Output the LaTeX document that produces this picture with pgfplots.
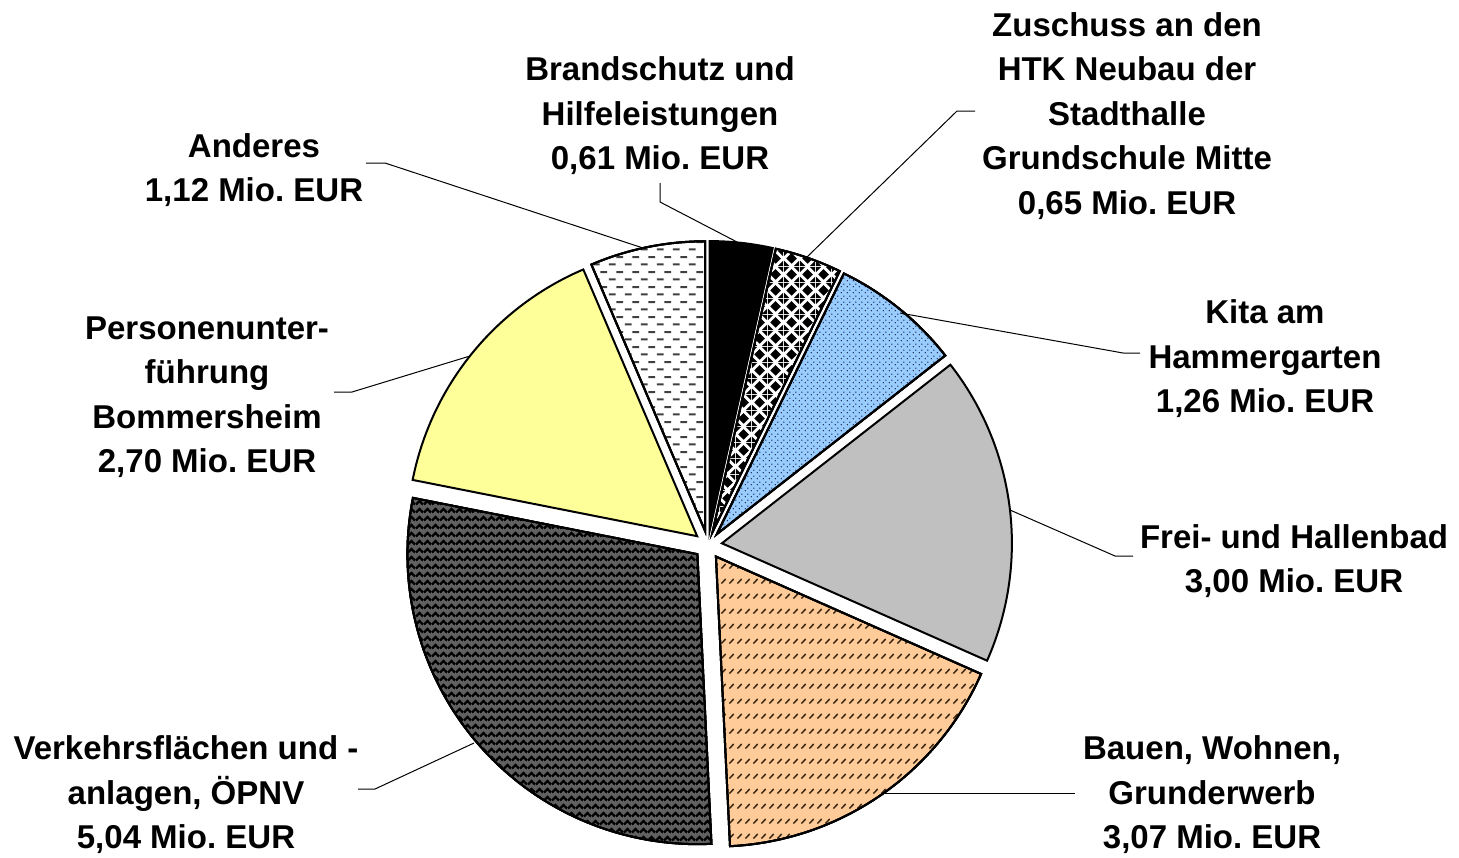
\documentclass[border=0pt]{standalone}
\usepackage{pgfplots}
\pgfplotsset{compat=1.18}
\usepackage{fontspec}
\setmainfont{Liberation Sans}
\usetikzlibrary{patterns}
\frenchspacing

\definecolor{cyel}{HTML}{FFFF99}
\definecolor{cblu}{HTML}{99CCFF}
\definecolor{cgry}{HTML}{C0C0C0}
\definecolor{cpch}{HTML}{FFCC99}

\pgfdeclarepatternformonly{hdash}{\pgfqpoint{0pt}{0pt}}{\pgfqpoint{8pt}{7.6pt}}{\pgfqpoint{8pt}{7.6pt}}{%
  \pgfsetlinewidth{1.1pt}%
  \pgfpathmoveto{\pgfqpoint{0.4pt}{1.9pt}}\pgfpathlineto{\pgfqpoint{4.0pt}{1.9pt}}%
  \pgfpathmoveto{\pgfqpoint{4.4pt}{5.7pt}}\pgfpathlineto{\pgfqpoint{8.0pt}{5.7pt}}%
  \pgfusepath{stroke}}
\pgfdeclarepatternformonly{diam}{\pgfqpoint{0pt}{0pt}}{\pgfqpoint{8pt}{8pt}}{\pgfqpoint{8pt}{8pt}}{%
  \pgfpathmoveto{\pgfqpoint{4pt}{1.2pt}}\pgfpathlineto{\pgfqpoint{6.8pt}{4pt}}\pgfpathlineto{\pgfqpoint{4pt}{6.8pt}}\pgfpathlineto{\pgfqpoint{1.2pt}{4pt}}\pgfpathclose
  \pgfpathmoveto{\pgfqpoint{0pt}{0pt}}\pgfpathlineto{\pgfqpoint{2.8pt}{0pt}}\pgfpathlineto{\pgfqpoint{0pt}{2.8pt}}\pgfpathclose
  \pgfpathmoveto{\pgfqpoint{8pt}{0pt}}\pgfpathlineto{\pgfqpoint{5.2pt}{0pt}}\pgfpathlineto{\pgfqpoint{8pt}{2.8pt}}\pgfpathclose
  \pgfpathmoveto{\pgfqpoint{0pt}{8pt}}\pgfpathlineto{\pgfqpoint{2.8pt}{8pt}}\pgfpathlineto{\pgfqpoint{0pt}{5.2pt}}\pgfpathclose
  \pgfpathmoveto{\pgfqpoint{8pt}{8pt}}\pgfpathlineto{\pgfqpoint{5.2pt}{8pt}}\pgfpathlineto{\pgfqpoint{8pt}{5.2pt}}\pgfpathclose
  \pgfusepath{fill}}
\pgfdeclarepatternformonly{fdots}{\pgfqpoint{0pt}{0pt}}{\pgfqpoint{3pt}{3pt}}{\pgfqpoint{3pt}{3pt}}{%
  \pgfpathcircle{\pgfqpoint{0.75pt}{0.75pt}}{0.38pt}%
  \pgfpathcircle{\pgfqpoint{2.25pt}{2.25pt}}{0.38pt}%
  \pgfusepath{fill}}
\pgfdeclarepatternformonly{ddash}{\pgfqpoint{0pt}{0pt}}{\pgfqpoint{4pt}{7.5pt}}{\pgfqpoint{4pt}{7.5pt}}{%
  \pgfsetlinewidth{0.8pt}%
  \pgfpathmoveto{\pgfqpoint{0.8pt}{2.4pt}}\pgfpathlineto{\pgfqpoint{3.2pt}{4.8pt}}%
  \pgfusepath{stroke}}
\pgfdeclarepatternformonly{chev}{\pgfqpoint{0pt}{0pt}}{\pgfqpoint{4pt}{4pt}}{\pgfqpoint{4pt}{4pt}}{%
  \pgfsetlinewidth{1.3pt}%
  \pgfpathmoveto{\pgfqpoint{0pt}{0.8pt}}\pgfpathlineto{\pgfqpoint{2pt}{2.8pt}}\pgfpathlineto{\pgfqpoint{4pt}{0.8pt}}%
  \pgfusepath{stroke}}

\tikzset{lbl/.style={font=\bfseries\fontsize{16.5}{22.25}\selectfont, align=center, inner sep=0pt}}

% values (Mio. EUR), clockwise from 12 o'clock
\pgfmathsetmacro\total{0.61+0.65+1.26+3.00+3.07+5.04+2.70+1.12}
\def\cum{90}
\newcommand\slice[2]{%
  \pgfmathsetmacro\aS{\cum}%
  \pgfmathsetmacro\aE{\cum-#1/\total*360}%
  \pgfmathsetmacro\aM{(\aS+\aE)/2}%
  \pgfmathsetmacro\ox{708+14*cos(\aM)}%
  \pgfmathsetmacro\oy{545-14*sin(\aM)}%
  \edef\next{\noexpand\addplot[draw=black,line width=1pt,line join=miter,#2,domain=\aE:\aS,samples=90] ({\ox+290*cos(x)},{\oy-290*sin(x)}) -- (axis cs:\ox,\oy) -- cycle;}%
  \next
  \global\let\cum\aE
}

\begin{document}
\begin{tikzpicture}
\begin{axis}[
  x=0.5pt, y=0.5pt,
  xmin=0, xmax=1459, ymin=0, ymax=857,
  y dir=reverse,
  hide axis, clip=false,
]
\path (axis cs:0,0) rectangle (axis cs:1459,857);

\slice{0.61}{fill=black}
\slice{0.65}{preaction={fill=white},preaction={pattern=diam,pattern color=black}}
\slice{1.26}{preaction={fill=cblu},preaction={pattern=fdots,pattern color=black!75!blue!60!black}}
\slice{3.00}{fill=cgry}
\slice{3.07}{preaction={fill=cpch},preaction={pattern=ddash,pattern color=black!70!brown}}
\slice{5.04}{preaction={fill=black!62},preaction={pattern=chev,pattern color=black}}
\slice{2.70}{fill=cyel}
\slice{1.12}{preaction={fill=white},preaction={pattern=hdash,pattern color=black!75}}

% leader lines
\addplot[black,line width=0.5pt,mark=none] coordinates {(366,163) (385,163) (643,248)};
\addplot[black,line width=0.5pt,mark=none] coordinates {(660,183) (660,202) (737,242)};
\addplot[black,line width=0.5pt,mark=none] coordinates {(975,111) (957,111) (807,257)};
\addplot[black,line width=0.5pt,mark=none] coordinates {(900,313) (1123,353) (1140,353)};
\addplot[black,line width=0.5pt,mark=none] coordinates {(1010,510) (1115,556) (1133,556)};
\addplot[black,line width=0.5pt,mark=none] coordinates {(885,793) (1075,793)};
\addplot[black,line width=0.5pt,mark=none] coordinates {(474,743) (375,789) (358,789)};
\addplot[black,line width=0.5pt,mark=none] coordinates {(470,356) (352,392) (334,392)};

% labels
\node[lbl] at (axis cs:660,116) {Brandschutz und\\Hilfeleistungen\\0,61 Mio. EUR};
\node[lbl] at (axis cs:1127,116) {Zuschuss an den\\HTK Neubau der\\Stadthalle\\Grundschule Mitte\\0,65 Mio. EUR};
\node[lbl] at (axis cs:254,170) {Anderes\\1,12 Mio. EUR};
\node[lbl] at (axis cs:1265,359) {Kita am\\Hammergarten\\1,26 Mio. EUR};
\node[lbl] at (axis cs:207,397) {Personenunter-\\führung\\Bommersheim\\2,70 Mio. EUR};
\node[lbl] at (axis cs:1294,561) {Frei- und Hallenbad\\3,00 Mio. EUR};
\node[lbl] at (axis cs:1212,795) {Bauen, Wohnen,\\Grunderwerb\\3,07 Mio. EUR};
\node[lbl] at (axis cs:186,795) {Verkehrsflächen und -\\anlagen, ÖPNV\\5,04 Mio. EUR};
\end{axis}
\end{tikzpicture}
\end{document}
